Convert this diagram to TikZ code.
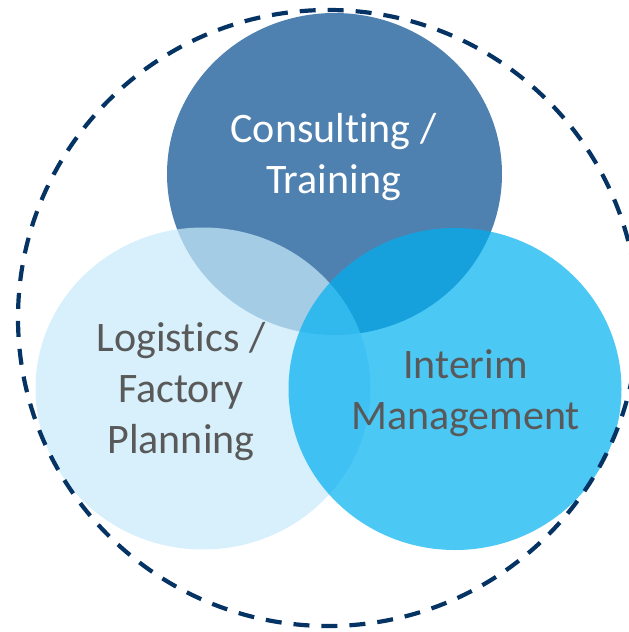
\documentclass[tikz,border=0pt]{standalone}
\usepackage{fontspec}
\setmainfont{Carlito}[Ligatures={NoCommon}]
\definecolor{topc}{RGB}{79,129,176}
\definecolor{leftc}{RGB}{199,234,251}
\definecolor{rightc}{RGB}{0,176,240}
\definecolor{navy}{RGB}{5,52,100}
\definecolor{txtgray}{RGB}{89,89,89}
\tikzset{
  lbl/.style={align=center, font=\fontsize{42}{51}\selectfont, anchor=base}
}
\begin{document}
\begin{tikzpicture}[x=1pt,y=-1pt]
\useasboundingbox (0,0) rectangle (629,632);
\fill[topc] (334.5,174) ellipse[x radius=167.5, y radius=161];
\fill[leftc, fill opacity=0.716] (203,388.5) ellipse[x radius=167.5, y radius=161];
\fill[rightc, fill opacity=0.7] (455,389) ellipse[x radius=166.5, y radius=161];
\begin{scope}
\clip (0,0) rectangle (629,632);
\draw[navy, line width=4.2pt, dash pattern=on 16pt off 12pt] (328,318) ellipse[x radius=310, y radius=308];
\end{scope}
\node[lbl, text=white] (consult) at (333.5,193) {Consulting /\\Training};
\node[lbl, text=txtgray] (logi) at (181,453) {Logistics /\\Factory\\Planning};
\node[lbl, text=txtgray] (interim) at (465.5,429) {Interim\\Management};
\end{tikzpicture}
\end{document}
